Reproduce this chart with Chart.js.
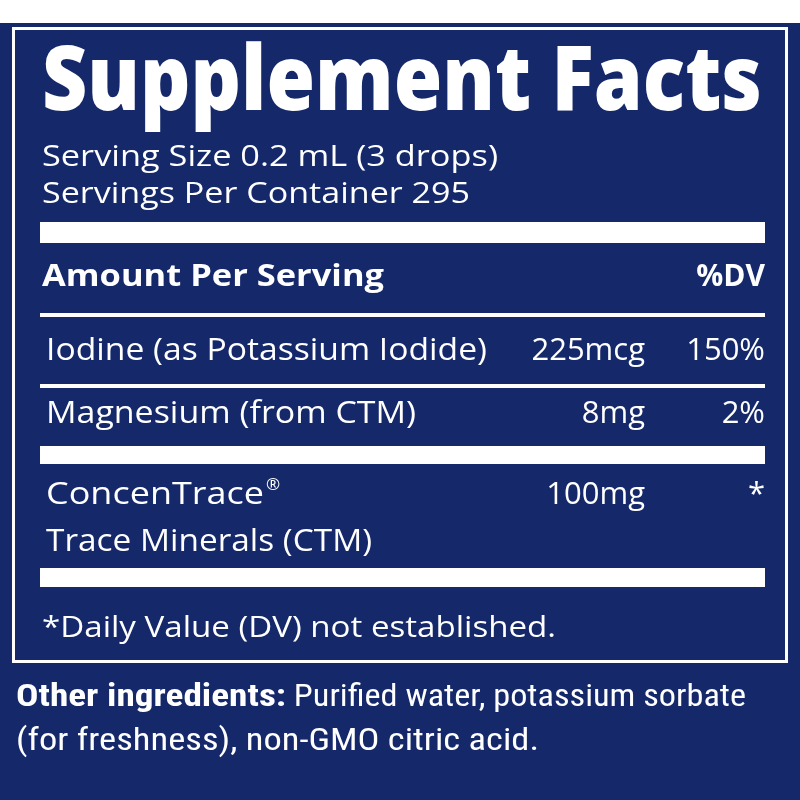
<!DOCTYPE html><html><head><meta charset="utf-8">
<script src="https://cdn.jsdelivr.net/npm/chart.js@4"></script>
<style>html,body{margin:0;padding:0;background:#fff}#w{width:800px;height:800px}</style></head><body>
<div id="w"><canvas id="c" width="800" height="800"></canvas></div>
<script>
const title = "Supplement Facts";
const servingLines = ["Serving Size 0.2 mL (3 drops)", "Servings Per Container 295"];
const headerLabels = ["Amount Per Serving", "%DV"];
const nutrientNames = [["Iodine (as Potassium Iodide)"], ["Magnesium (from CTM)"], ["ConcenTrace\u00AE", "Trace Minerals (CTM)"]];
const nutrientAmounts = ["225mcg", "8mg", "100mg"];
const nutrientDV = ["150%", "2%", "*"];
const footnote = "*Daily Value (DV) not established.";
const otherBold = "Other ingredients:";
const otherLines = [" Purified water, potassium sorbate", "(for freshness), non-GMO citric acid."];

const NAVY = "#14286a";
const F = "'Open Sans', 'Noto Sans', sans-serif";
function fitText(ctx, t, x, y, font, w, align) {
  ctx.font = font;
  const m = ctx.measureText(t).width;
  const s = w ? w / m : 1;
  ctx.save();
  ctx.translate(x, y);
  ctx.scale(s, 1);
  ctx.textAlign = align || "left";
  ctx.fillText(t, 0, 0);
  ctx.restore();
  return m * s;
}
const nameWidths = [[441], [370], [null, 326]];
const labelPlugin = {
  id: "label",
  beforeDraw(chart) {
    const ctx = chart.ctx;
    ctx.save();
    ctx.fillStyle = "#fff"; ctx.fillRect(0, 0, 800, 800);
    ctx.fillStyle = NAVY; ctx.fillRect(0, 23, 800, 777);
    ctx.strokeStyle = "#fff"; ctx.lineWidth = 3;
    ctx.strokeRect(13.5, 28.5, 773, 633);
    ctx.fillStyle = "#fff";
    ctx.textBaseline = "alphabetic";
    fitText(ctx, title, 42, 110, "800 90px " + F, 720);
    fitText(ctx, servingLines[0], 42, 166, "400 30px " + F, 456);
    fitText(ctx, servingLines[1], 42, 203, "400 30px " + F, 428);
    ctx.fillRect(40, 222, 725, 21);
    fitText(ctx, headerLabels[0], 42, 286, "700 30px " + F, 342);
    fitText(ctx, headerLabels[1], 765, 286, "700 30px " + F, null, "right");
    ctx.fillRect(40, 313, 725, 4);
    const ys = [360, 423, 504];
    const f = "400 31px " + F;
    for (let i = 0; i < nutrientNames.length; i++) {
      nutrientNames[i].forEach((n, j) => {
        if (i === 2 && j === 0) {
          const cw = fitText(ctx, "ConcenTrace", 46, ys[i], f, 218);
          fitText(ctx, "\u00AE", 46 + cw + 2, ys[i] - 14, "400 17px " + F);
        } else fitText(ctx, n, 46, ys[i] + j * 47, f, nameWidths[i][j]);
      });
      ctx.save(); ctx.font = f; ctx.textAlign = "right";
      ctx.fillText(nutrientAmounts[i], 645, ys[i]);
      ctx.fillText(nutrientDV[i], 765, ys[i]);
      ctx.restore();
    }
    ctx.fillRect(40, 384, 725, 4);
    ctx.fillRect(40, 446, 725, 18);
    ctx.fillRect(40, 568, 725, 19);
    fitText(ctx, footnote, 42, 637, "400 30px " + F, 514);
    const nf = "'Liberation Sans Narrow', 'Roboto Condensed', " + F;
    const bw = fitText(ctx, otherBold, 16, 706, "700 32px " + nf, 270);
    fitText(ctx, otherLines[0], 16 + bw, 706, "400 32px " + nf, 730 - bw);
    fitText(ctx, otherLines[1], 16, 750, "400 32px " + nf, 523);
    ctx.restore();
  }
};
new Chart(document.getElementById("c"), {
  type: "bar",
  data: { labels: [], datasets: [{ data: [] }] },
  options: { responsive: false, animation: false, events: [],
    plugins: { legend: { display: false }, tooltip: { enabled: false } },
    scales: { x: { display: false }, y: { display: false } } },
  plugins: [labelPlugin]
});
</script></body></html>
